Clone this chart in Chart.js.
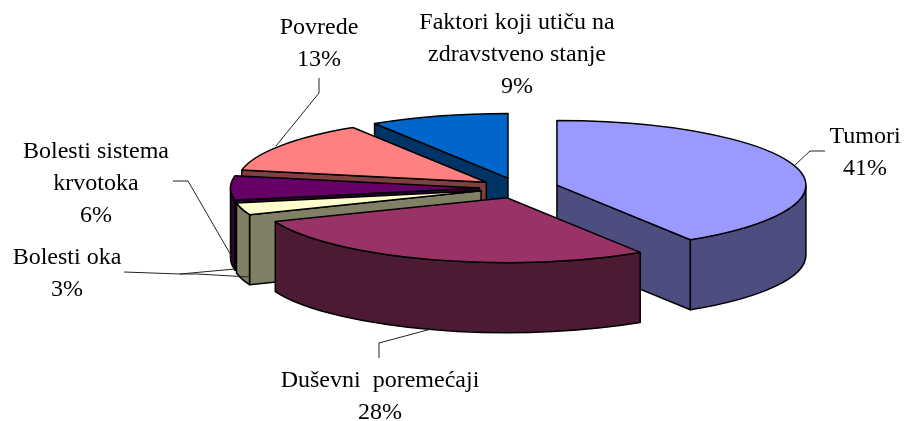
<!DOCTYPE html>
<html>
<head>
<meta charset="utf-8">
<style>html,body{margin:0;padding:0;background:#fff}canvas{display:block}</style>
<script src="https://cdn.jsdelivr.net/npm/chart.js@4"></script>
</head>
<body>
<canvas id="c" width="904" height="421"></canvas>
<script>
const categories = ["Tumori", "Duševni poremećaji", "Bolesti oka", "Bolesti sistema krvotoka", "Povrede", "Faktori koji utiču na zdravstveno stanje"];
const values = [41, 28, 3, 6, 13, 9];
const topColors = ["#9999FF", "#993366", "#FFFFCC", "#660066", "#FF8080", "#0066CC"];
const wallColors = ["#4D4D80", "#4D1A33", "#808066", "#330033", "#804040", "#003366"];
const drawOrder = [5, 4, 3, 2, 0, 1];
const labelLines = [["Tumori"], ["Duševni  poremećaji"], ["Bolesti oka"], ["Bolesti sistema", "krvotoka"], ["Povrede"], ["Faktori koji utiču na", "zdravstveno stanje"]];
const labelAnchors = [[865, 143], [380, 387], [67, 264], [96, 158], [319, 34], [517, 29]];
const leaders = [
  [[795,165],[810,151],[825,151]],
  [[435,328],[379,343],[379,358]],
  [[124,272],[180,274],[235,269]],
  [[180,274],[197,274],[250,277]],
  [[173,181],[188,181],[232,257]],
  [[319,78],[319,93],[276,146]]
];
const TILT = 0.26, DEPTH = 70, EXPLODE = 39.5, LINE_H = 32;

const pie3d = {
  id: 'pie3d',
  beforeDatasetDraw(chart, args) {
    const ctx = chart.ctx, arcs = args.meta.data;
    drawOrder.forEach(i => {
      const el = arcs[i];
      const a0 = el.startAngle, a1 = el.endAngle, h = (a0 + a1) / 2, R = el.outerRadius;
      const dx = Math.cos(h) * EXPLODE, dy = Math.sin(h) * EXPLODE;
      const cx = el.x + dx, cy = el.y + dy * TILT, Ry = R * TILT;
      const wall = wallColors[i];
      ctx.save();
      ctx.lineWidth = 1.5; ctx.strokeStyle = '#000'; ctx.lineJoin = 'round';
      const paint = () => { ctx.fillStyle = wall; ctx.fill(); ctx.stroke(); };
      const face = a => {
        ctx.beginPath();
        ctx.moveTo(cx, cy);
        ctx.lineTo(cx + R * Math.cos(a), cy + Ry * Math.sin(a));
        ctx.lineTo(cx + R * Math.cos(a), cy + Ry * Math.sin(a) + DEPTH);
        ctx.lineTo(cx, cy + DEPTH);
        ctx.closePath();
        paint();
      };
      if (Math.sin(a0 - Math.PI / 2) > 0) face(a0);
      if (Math.sin(a1 + Math.PI / 2) > 0) face(a1);
      const s = Math.max(a0, 0), e = Math.min(a1, Math.PI);
      if (e > s) {
        ctx.beginPath();
        ctx.ellipse(cx, cy, R, Ry, 0, s, e);
        ctx.ellipse(cx, cy + DEPTH, R, Ry, 0, e, s, true);
        ctx.closePath();
        paint();
      }
      ctx.save();
      ctx.translate(0, el.y); ctx.scale(1, TILT); ctx.translate(0, -el.y);
      ctx.translate(dx, dy);
      el.draw(ctx);
      ctx.restore();
      ctx.beginPath();
      ctx.moveTo(cx, cy);
      ctx.ellipse(cx, cy, R, Ry, 0, a0, a1);
      ctx.closePath();
      ctx.stroke();
      ctx.restore();
    });
    return false;
  },
  afterDraw(chart) {
    const ctx = chart.ctx;
    ctx.save();
    ctx.strokeStyle = '#222'; ctx.lineWidth = 1;
    leaders.forEach(pts => {
      ctx.beginPath();
      pts.forEach((p, j) => j ? ctx.lineTo(p[0], p[1]) : ctx.moveTo(p[0], p[1]));
      ctx.stroke();
    });
    ctx.fillStyle = '#000';
    ctx.font = '24px "Liberation Serif"';
    ctx.textAlign = 'center';
    ctx.textBaseline = 'alphabetic';
    categories.forEach((c, i) => {
      const [x, y] = labelAnchors[i];
      const lines = labelLines[i].concat(values[i] + '%');
      lines.forEach((t, j) => ctx.fillText(t, x, y + j * LINE_H));
    });
    ctx.restore();
  }
};

new Chart(document.getElementById('c'), {
  type: 'pie',
  data: {
    labels: categories,
    datasets: [{ data: values, backgroundColor: topColors, borderWidth: 0 }]
  },
  options: {
    responsive: false,
    animation: false,
    radius: 249,
    layout: { padding: { left: 134, bottom: 45 } },
    plugins: { legend: { display: false }, tooltip: { enabled: false } }
  },
  plugins: [pie3d]
});
</script>
</body>
</html>
